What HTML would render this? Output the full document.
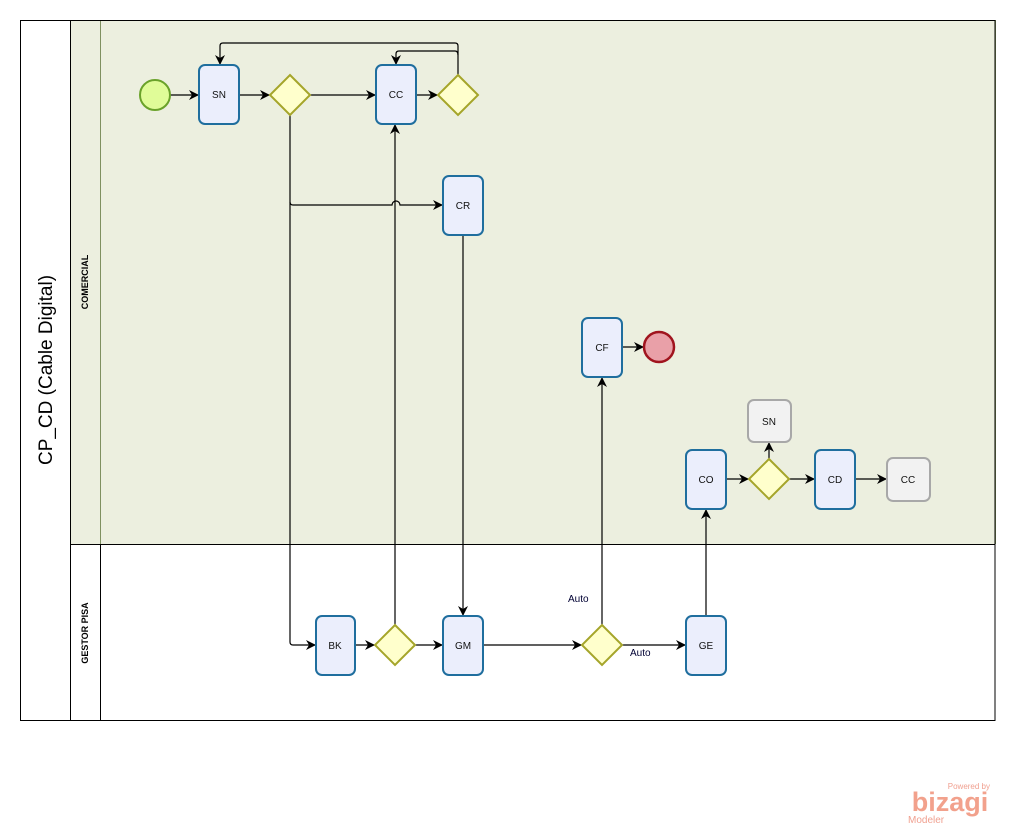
<!DOCTYPE html>
<html><head><meta charset="utf-8"><style>body{margin:0;background:#fff}svg{display:block}</style></head><body>
<svg width="1015" height="834" viewBox="0 0 1015 834" xmlns="http://www.w3.org/2000/svg" font-family="'Liberation Sans',sans-serif">
<defs><marker id="a" viewBox="0 0 10 10" refX="10" refY="5" markerWidth="10" markerHeight="10" orient="auto" markerUnits="userSpaceOnUse"><path d="M0,0 L10,5 L0,10 L3,5 z" fill="#000"/></marker></defs>
<rect x="70" y="20" width="925" height="524" fill="#ECEFDF"/>
<rect x="70" y="544" width="925" height="176" fill="#fff"/>
<g stroke="#7F9060" stroke-width="1" fill="none">
<line x1="70" y1="20.5" x2="995" y2="20.5"/><line x1="995.5" y1="20" x2="995.5" y2="544"/>
<line x1="100.5" y1="20" x2="100.5" y2="544"/>
</g>
<g stroke="#000" stroke-width="1" fill="none">
<rect x="20.5" y="20.5" width="974.5" height="700"/>
<line x1="70.5" y1="20" x2="70.5" y2="720"/>
<line x1="100.5" y1="544" x2="100.5" y2="720"/>
<line x1="70" y1="544.5" x2="995" y2="544.5"/>
</g>
<text transform="translate(52,370) rotate(-90)" text-anchor="middle" font-size="19">CP_CD (Cable Digital)</text>
<text transform="translate(88,282) rotate(-90)" text-anchor="middle" font-size="9" font-weight="bold">COMERCIAL</text>
<text transform="translate(88,633) rotate(-90)" text-anchor="middle" font-size="9" font-weight="bold">GESTOR PISA</text>
<g stroke="#000" stroke-width="1.2" fill="none" marker-end="url(#a)">
<line x1="170" y1="95" x2="199" y2="95"/>
<line x1="239" y1="95" x2="270" y2="95"/>
<line x1="310" y1="95" x2="376" y2="95"/>
<line x1="416" y1="95" x2="438" y2="95"/>
<path d="M458,75 V46 Q458,43 455,43 H223 Q220,43 220,46 V65"/>
<path d="M458,55 Q458,51 455,51 H399 Q396,51 396,54 V65"/>
<path d="M290,115 V642 Q290,645 293,645 H316"/>
<path d="M290,202 Q290,205 293,205 H392 A4,4 0 0 1 400,205 H443"/>
<line x1="395" y1="625" x2="395" y2="124"/>
<line x1="463" y1="235" x2="463" y2="616"/>
<line x1="355" y1="645" x2="375" y2="645"/>
<line x1="415" y1="645" x2="443" y2="645"/>
<line x1="483" y1="645" x2="582" y2="645"/>
<line x1="622" y1="645" x2="686" y2="645"/>
<line x1="602" y1="625" x2="602" y2="377"/>
<line x1="622" y1="347" x2="644" y2="347"/>
<line x1="706" y1="616" x2="706" y2="509"/>
<line x1="726" y1="479" x2="749" y2="479"/>
<line x1="769" y1="459" x2="769" y2="442"/>
<line x1="789" y1="479" x2="815" y2="479"/>
<line x1="855" y1="479" x2="887" y2="479"/>
</g>
<text x="568" y="602" font-size="10" fill="#000033">Auto</text>
<text x="630" y="656" font-size="10" fill="#000033">Auto</text>
<circle cx="155" cy="95" r="15" fill="#E0FC98" stroke="#6AA22A" stroke-width="2"/>
<circle cx="659" cy="347" r="15" fill="#E9A0A8" stroke="#A0141E" stroke-width="2.5"/>
<g fill="#FFFFCC" stroke="#A5A52A" stroke-width="2">
<path d="M290,75 L310,95 L290,115 L270,95z"/>
<path d="M458,75 L478,95 L458,115 L438,95z"/>
<path d="M769,459 L789,479 L769,499 L749,479z"/>
<path d="M395,625 L415,645 L395,665 L375,645z"/>
<path d="M602,625 L622,645 L602,665 L582,645z"/>
</g>
<g fill="#EBEEFC" stroke="#1F6E9E" stroke-width="2">
<rect x="199" y="65" width="40" height="59" rx="6"/>
<rect x="376" y="65" width="40" height="59" rx="6"/>
<rect x="443" y="176" width="40" height="59" rx="6"/>
<rect x="582" y="318" width="40" height="59" rx="6"/>
<rect x="686" y="450" width="40" height="59" rx="6"/>
<rect x="815" y="450" width="40" height="59" rx="6"/>
<rect x="316" y="616" width="39" height="59" rx="6"/>
<rect x="443" y="616" width="40" height="59" rx="6"/>
<rect x="686" y="616" width="40" height="59" rx="6"/>
</g>
<g fill="#F2F2F2" stroke="#A8A8A8" stroke-width="2">
<rect x="748" y="400" width="43" height="42" rx="6"/>
<rect x="887" y="458" width="43" height="43" rx="6"/>
</g>
<g font-size="10" text-anchor="middle" fill="#111">
<text x="219" y="98">SN</text><text x="396" y="98">CC</text><text x="463" y="209">CR</text>
<text x="602" y="351">CF</text><text x="706" y="483">CO</text><text x="835" y="483">CD</text>
<text x="335" y="649">BK</text><text x="463" y="649">GM</text><text x="706" y="649">GE</text>
<text x="769" y="425">SN</text><text x="908" y="483">CC</text>
</g>
<text x="990" y="789" font-size="8" text-anchor="end" fill="#F0A090">Powered by</text>
<text x="950" y="811" font-size="27" text-anchor="middle" fill="#F2A18C" font-weight="bold">bizagi</text>
<text x="908" y="823" font-size="10" fill="#F0A090">Modeler</text>
</svg>
</body></html>
